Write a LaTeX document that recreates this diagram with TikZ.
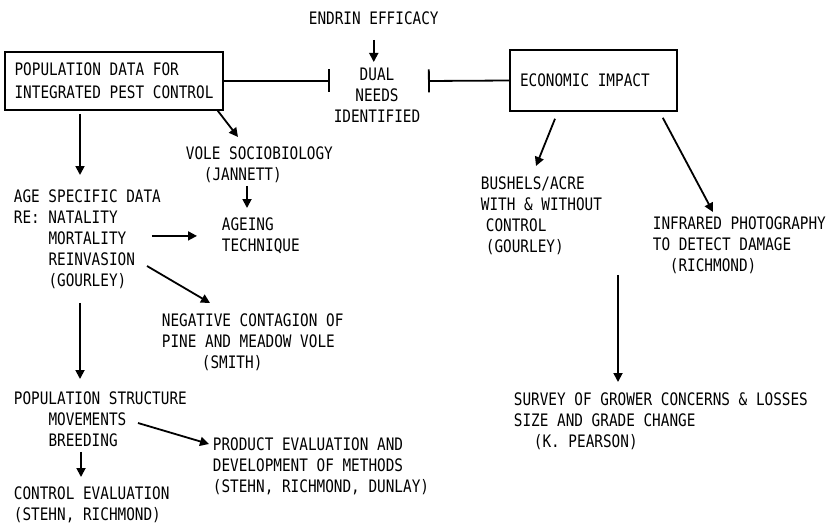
\documentclass[tikz,border=0pt]{standalone}
\usepackage{fontspec}
\setmainfont[FakeStretch=0.835]{DejaVu Sans Mono}
\usetikzlibrary{arrows.meta, positioning}

\begin{document}
\begin{tikzpicture}[x=0.5pt, y=-0.5pt, font=\fontsize{8.6pt}{10.5pt}\selectfont, line width=0.9pt]
    \tikzset{
        txt/.style={inner sep=0pt, align=left, anchor=north west},
        box/.style={draw, line width=0.8pt, inner sep=0pt, align=left},
        arr/.style={-{Triangle[length=4.5pt, width=4.5pt]}},
        bartip/.style={-{Bar[width=11.5pt]}}
    }
    \useasboundingbox (0,0) rectangle (828,524);

    % BOXES
    \node[box, minimum width=109pt, minimum height=29pt] (popdata) at (114,81) {POPULATION DATA FOR\\[1pt]INTEGRATED PEST CONTROL};
    \node[box, minimum height=30.5pt, inner xsep=5pt] (econ) at (593.5,80.5) {\makebox[73.5pt][l]{ECONOMIC IMPACT}};

    % TOP
    \node[txt] (endrin) at (308,11) {ENDRIN EFFICACY};
    \node[txt, anchor=north, align=center] (dual) at (377,67) {DUAL\\NEEDS\\IDENTIFIED};
    \coordinate (barL) at (330,81);
    \coordinate (barR) at (428,81);

    % LEFT BRANCH
    \node[txt] (agedata) at (13,189) {AGE SPECIFIC DATA\\RE: NATALITY\\\hspace*{17.3pt}MORTALITY\\\hspace*{17.3pt}REINVASION\\\hspace*{17.3pt}(GOURLEY)};
    \node[txt] (vole) at (185,146) {VOLE SOCIOBIOLOGY\\\hspace*{9pt}(JANNETT)};
    \node[txt] (ageing) at (221,217) {AGEING\\TECHNIQUE};
    \node[txt] (negcont) at (161,313) {NEGATIVE CONTAGION OF\\PINE AND MEADOW VOLE\\\hspace*{20pt}(SMITH)};
    \node[txt] (popstruct) at (13,391) {POPULATION STRUCTURE\\\hspace*{17.3pt}MOVEMENTS\\\hspace*{17.3pt}BREEDING};
    \node[txt] (product) at (212,437) {PRODUCT EVALUATION AND\\DEVELOPMENT OF METHODS\\(STEHN, RICHMOND, DUNLAY)};
    \node[txt] (controleval) at (13,486) {CONTROL EVALUATION\\(STEHN, RICHMOND)};

    % RIGHT BRANCH
    \node[txt] (bushels) at (480,176) {BUSHELS/ACRE\\WITH \& WITHOUT\\\hspace*{2.5pt}CONTROL\\\hspace*{2.5pt}(GOURLEY)};
    \node[txt] (infrared) at (652,216) {INFRARED PHOTOGRAPHY\\TO DETECT DAMAGE\\\hspace*{8.5pt}(RICHMOND)};
    \node[txt] (survey) at (513,392) {SURVEY OF GROWER CONCERNS \& LOSSES\\SIZE AND GRADE CHANGE\\\hspace*{10pt}(K. PEARSON)};

    % CONNECTORS
    \path[bartip]
        (popdata.east) edge (barL)
        (econ.west) edge (barR);
    \path[arr]
        (endrin.south) edge[shorten <=7pt, shorten >=2.5pt] (endrin.south |- dual.north)
        ([xshift=-17pt]popdata.south) edge[shorten <=1.5pt, shorten >=7pt] ([xshift=-17pt]popdata.south |- agedata.north)
        ([xshift=-3pt]popdata.south east) edge ([xshift=26.5pt, yshift=4.5pt]vole.north west)
        ([xshift=13pt]ageing.north west |- vole.south) edge[shorten <=1pt, shorten >=4.5pt] ([xshift=13pt]ageing.north west)
        ([xshift=-5pt]agedata.east |- ageing.west) edge[shorten >=12pt] (ageing.west)
        ([xshift=67pt, yshift=-38.5pt]agedata.north west) edge ([xshift=24.5pt, yshift=5pt]negcont.north west)
        ([xshift=33.5pt]agedata.south west) edge[shorten <=6.5pt, shorten >=6pt] ([xshift=33.5pt]agedata.south west |- popstruct.north)
        ([xshift=62.5pt, yshift=-16pt]popstruct.north west) edge ([xshift=-1.5pt, yshift=-3.5pt]product.north west)
        ([xshift=34pt]popstruct.south west) edge[shorten <=2pt, shorten >=4.5pt] ([xshift=34pt]popstruct.south west |- controleval.north)
        ([xshift=-19.25pt, yshift=-3.5pt]econ.south) edge ([xshift=28pt, yshift=5pt]bushels.north west)
        ([xshift=-7.5pt, yshift=-3pt]econ.south east) edge ([xshift=30.5pt, yshift=2pt]infrared.north west)
        ([xshift=-17pt]infrared.south west) edge[shorten >=5pt] ([xshift=-17pt]infrared.south west |- survey.north);

\end{tikzpicture}
\end{document}
